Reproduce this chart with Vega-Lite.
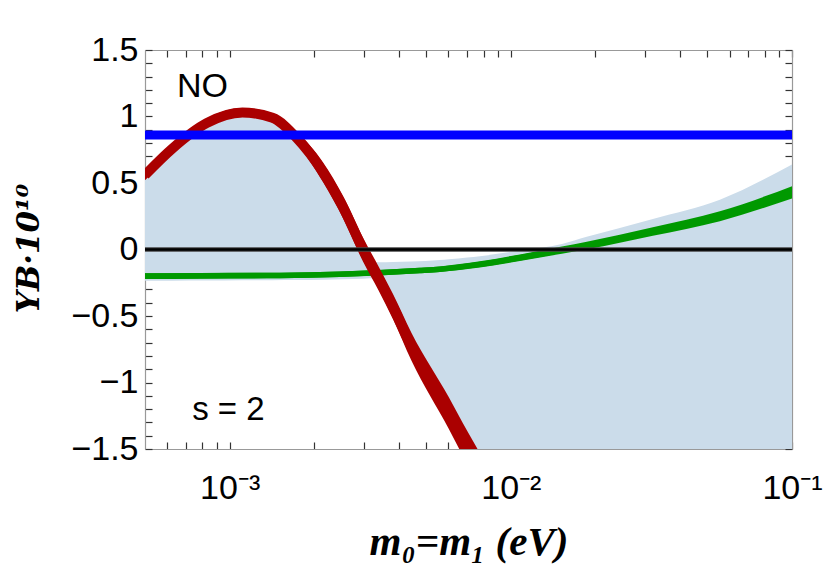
{
  "$schema": "https://vega.github.io/schema/vega-lite/v6.json",
  "width": 647,
  "height": 399,
  "autosize": {"type": "none"},
  "padding": {"left": 145, "top": 50, "right": 38, "bottom": 124},
  "config": {"view": {"stroke": null}, "font": "Liberation Sans"},
  "datasets": {
    "fill": [
      {"x": 0.0005, "lo": -0.235, "hi": 0.56},
      {"x": 0.000626, "lo": -0.235, "hi": 0.76},
      {"x": 0.000828, "lo": -0.234, "hi": 0.95},
      {"x": 0.00111, "lo": -0.232, "hi": 1.03},
      {"x": 0.00142, "lo": -0.231, "hi": 0.99},
      {"x": 0.00173, "lo": -0.23, "hi": 0.84},
      {"x": 0.00215, "lo": -0.228, "hi": 0.58},
      {"x": 0.00253, "lo": -0.224, "hi": 0.32},
      {"x": 0.00298, "lo": -0.22, "hi": 0.0},
      {"x": 0.003148, "lo": -0.216, "hi": -0.095},
      {"x": 0.00339, "lo": -0.22, "hi": -0.096},
      {"x": 0.00381, "lo": -0.43, "hi": -0.094},
      {"x": 0.00443, "lo": -0.73, "hi": -0.09},
      {"x": 0.00559, "lo": -1.11, "hi": -0.079},
      {"x": 0.00602, "lo": -1.23, "hi": -0.073},
      {"x": 0.007, "lo": -1.49, "hi": -0.06},
      {"x": 0.00776, "lo": -1.66, "hi": -0.05},
      {"x": 0.01077, "lo": -2.5, "hi": -0.008},
      {"x": 0.01519, "lo": -2.5, "hi": 0.042},
      {"x": 0.01862, "lo": -2.5, "hi": 0.095},
      {"x": 0.032, "lo": -2.5, "hi": 0.23},
      {"x": 0.0554, "lo": -2.5, "hi": 0.375},
      {"x": 0.1, "lo": -2.5, "hi": 0.64}
    ],
    "red": [
      {"x": 0.0005, "y": 0.56, "lo": 0.52, "hi": 0.6},
      {"x": 0.000626, "y": 0.76, "lo": 0.72, "hi": 0.8},
      {"x": 0.000828, "y": 0.95, "lo": 0.915, "hi": 0.985},
      {"x": 0.00111, "y": 1.03, "lo": 0.996, "hi": 1.064},
      {"x": 0.00142, "y": 0.99, "lo": 0.955, "hi": 1.025},
      {"x": 0.00173, "y": 0.84, "lo": 0.795, "hi": 0.885},
      {"x": 0.00215, "y": 0.58, "lo": 0.505, "hi": 0.655},
      {"x": 0.00253, "y": 0.32, "lo": 0.235, "hi": 0.405},
      {"x": 0.00298, "y": 0.0, "lo": -0.09, "hi": 0.09},
      {"x": 0.00339, "y": -0.22, "lo": -0.31, "hi": -0.13},
      {"x": 0.00381, "y": -0.43, "lo": -0.525, "hi": -0.335},
      {"x": 0.00443, "y": -0.73, "lo": -0.835, "hi": -0.625},
      {"x": 0.00602, "y": -1.23, "lo": -1.35, "hi": -1.11},
      {"x": 0.007, "y": -1.49, "lo": -1.615, "hi": -1.365},
      {"x": 0.00776, "y": -1.66, "lo": -1.79, "hi": -1.53}
    ],
    "green": [
      {"x": 0.0005, "y": -0.2, "lo": -0.221, "hi": -0.179},
      {"x": 0.000782, "y": -0.198, "lo": -0.219, "hi": -0.177},
      {"x": 0.00151, "y": -0.195, "lo": -0.216, "hi": -0.174},
      {"x": 0.00246, "y": -0.186, "lo": -0.207, "hi": -0.165},
      {"x": 0.00474, "y": -0.158, "lo": -0.179, "hi": -0.137},
      {"x": 0.00559, "y": -0.148, "lo": -0.169, "hi": -0.127},
      {"x": 0.00776, "y": -0.112, "lo": -0.135, "hi": -0.089},
      {"x": 0.01077, "y": -0.062, "lo": -0.087, "hi": -0.037},
      {"x": 0.01519, "y": -0.005, "lo": -0.032, "hi": 0.022},
      {"x": 0.01862, "y": 0.03, "lo": 0.001, "hi": 0.059},
      {"x": 0.032, "y": 0.135, "lo": 0.103, "hi": 0.167},
      {"x": 0.0554, "y": 0.25, "lo": 0.213, "hi": 0.287},
      {"x": 0.1, "y": 0.43, "lo": 0.384, "hi": 0.476}
    ],
    "one": [{}]
  },
  "layer": [
    {
      "data": {"name": "fill"},
      "mark": {"type": "area", "color": "#cbdcea", "interpolate": "monotone", "clip": true},
      "encoding": {
        "x": {
          "field": "x", "type": "quantitative",
          "scale": {"type": "log", "domain": [0.0005, 0.1], "nice": false},
          "axis": {
            "orient": "bottom",
            "values": [0.0006, 0.0007, 0.0008, 0.0009, 0.001, 0.002, 0.003, 0.004, 0.005, 0.006, 0.007, 0.008, 0.009, 0.01, 0.02, 0.03, 0.04, 0.05, 0.06, 0.07, 0.08, 0.09, 0.1],
            "labelExpr": "datum.value == 0.001 ? '10⁻³' : datum.value == 0.01 ? '10⁻²' : datum.value == 0.1 ? '10⁻¹' : ''",
            "grid": false,
            "tickSize": -7, "tickColor": "#333333", "tickWidth": 1.2,
            "domainColor": "#999999", "domainWidth": 1.2,
            "labelFont": "Liberation Sans", "labelFontSize": 34, "labelColor": "#000000",
            "labelPadding": 56, "labelBaseline": "alphabetic",
            "labelFlush": false, "labelOverlap": false, "labelBound": false,
            "title": "m₀=m₁ (eV)",
            "titleFont": "Liberation Serif", "titleFontSize": 41, "titleFontWeight": "bold", "titleFontStyle": "italic",
            "titleColor": "#000000",
            "titleX": 323.5, "titleY": 105, "titleBaseline": "alphabetic", "titleAlign": "center"
          }
        },
        "y": {
          "field": "lo", "type": "quantitative",
          "scale": {"domain": [-1.5, 1.5], "nice": false, "zero": false},
          "axis": {
            "orient": "left",
            "values": [-1.5, -1.4, -1.3, -1.2, -1.1, -1, -0.9, -0.8, -0.7, -0.6, -0.5, -0.4, -0.3, -0.2, -0.1, 0, 0.1, 0.2, 0.3, 0.4, 0.5, 0.6, 0.7, 0.8, 0.9, 1, 1.1, 1.2, 1.3, 1.4, 1.5],
            "labelExpr": "abs(datum.value*2 - round(datum.value*2)) < 0.000001 ? format(datum.value, '~g') : ''",
            "grid": false,
            "tickSize": -7, "tickColor": "#333333", "tickWidth": 1.2,
            "domainColor": "#999999", "domainWidth": 1.2,
            "labelFont": "Liberation Sans", "labelFontSize": 34, "labelColor": "#000000",
            "labelPadding": 14, "labelBaseline": "middle",
            "labelFlush": false, "labelOverlap": false, "labelBound": false,
            "title": "YB·10¹⁰",
            "titleFont": "DejaVu Serif", "titleFontSize": 31, "titleFontWeight": "bold", "titleFontStyle": "italic",
            "titleColor": "#000000",
            "titleX": -116, "titleY": 198, "titleAngle": 270, "titleBaseline": "middle", "titleAlign": "center"
          }
        },
        "y2": {"field": "hi"}
      }
    },
    {
      "data": {"name": "green"},
      "mark": {"type": "area", "color": "#009900", "interpolate": "monotone", "clip": true},
      "encoding": {
        "x": {
          "field": "x", "type": "quantitative",
          "axis": {
            "orient": "top",
            "values": [0.0006, 0.0007, 0.0008, 0.0009, 0.001, 0.002, 0.003, 0.004, 0.005, 0.006, 0.007, 0.008, 0.009, 0.01, 0.02, 0.03, 0.04, 0.05, 0.06, 0.07, 0.08, 0.09, 0.1],
            "labels": false, "grid": false, "title": null,
            "tickSize": -7, "tickColor": "#333333", "tickWidth": 1.2,
            "domainColor": "#999999", "domainWidth": 1.2
          }
        },
        "y": {
          "field": "lo", "type": "quantitative",
          "axis": {
            "orient": "right",
            "values": [-1.5, -1.4, -1.3, -1.2, -1.1, -1, -0.9, -0.8, -0.7, -0.6, -0.5, -0.4, -0.3, -0.2, -0.1, 0, 0.1, 0.2, 0.3, 0.4, 0.5, 0.6, 0.7, 0.8, 0.9, 1, 1.1, 1.2, 1.3, 1.4, 1.5],
            "labels": false, "grid": false, "title": null,
            "tickSize": -7, "tickColor": "#333333", "tickWidth": 1.2,
            "domainColor": "#999999", "domainWidth": 1.2
          }
        },
        "y2": {"field": "hi"}
      }
    },
    {
      "data": {"name": "green"},
      "mark": {"type": "line", "color": "#009900", "strokeWidth": 5.5, "interpolate": "monotone", "clip": true},
      "encoding": {
        "x": {"field": "x", "type": "quantitative", "axis": null},
        "y": {"field": "y", "type": "quantitative", "axis": null}
      }
    },
    {
      "data": {"name": "red"},
      "mark": {"type": "area", "color": "#aa0000", "interpolate": "monotone", "clip": true},
      "encoding": {
        "x": {"field": "x", "type": "quantitative", "axis": null},
        "y": {"field": "lo", "type": "quantitative", "axis": null},
        "y2": {"field": "hi"}
      }
    },
    {
      "data": {"name": "red"},
      "mark": {"type": "line", "color": "#aa0000", "strokeWidth": 10, "interpolate": "monotone", "clip": true},
      "encoding": {
        "x": {"field": "x", "type": "quantitative", "axis": null},
        "y": {"field": "y", "type": "quantitative", "axis": null}
      }
    },
    {
      "data": {"name": "one"},
      "mark": {"type": "rule", "color": "#444444", "strokeWidth": 4.5},
      "encoding": {"y": {"datum": 0, "type": "quantitative", "axis": null}}
    },
    {
      "data": {"name": "one"},
      "mark": {"type": "rule", "color": "#000000", "strokeWidth": 2.5},
      "encoding": {"y": {"datum": 0, "type": "quantitative", "axis": null}}
    },
    {
      "data": {"name": "one"},
      "mark": {"type": "rule", "color": "#0000ff", "strokeWidth": 9},
      "encoding": {"y": {"datum": 0.86, "type": "quantitative", "axis": null}}
    },
    {
      "data": {"name": "one"},
      "mark": {"type": "text", "text": "NO", "font": "Liberation Sans", "fontSize": 34, "align": "center", "baseline": "middle", "color": "#000000"},
      "encoding": {
        "x": {"datum": 0.0008, "type": "quantitative", "axis": null},
        "y": {"datum": 1.22, "type": "quantitative", "axis": null}
      }
    },
    {
      "data": {"name": "one"},
      "mark": {"type": "text", "text": "s = 2", "font": "Liberation Sans", "fontSize": 33, "align": "center", "baseline": "middle", "color": "#000000"},
      "encoding": {
        "x": {"datum": 0.00099, "type": "quantitative", "axis": null},
        "y": {"datum": -1.207, "type": "quantitative", "axis": null}
      }
    }
  ],
  "resolve": {"axis": {"x": "independent", "y": "independent"}}
}
